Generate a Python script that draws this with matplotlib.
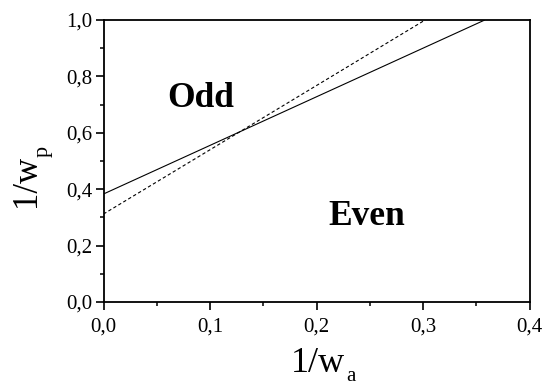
import matplotlib
matplotlib.use("Agg")
import matplotlib.pyplot as plt
from matplotlib.ticker import MultipleLocator, FuncFormatter

# Data
solid_x = [0.0, 0.358]
solid_y = [0.383, 1.0]
dashed_x = [0.0, 0.302]
dashed_y = [0.312, 1.0]
xticks = [0.0, 0.1, 0.2, 0.3, 0.4]
yticks = [0.0, 0.2, 0.4, 0.6, 0.8, 1.0]
region_labels = ["Odd", "Even"]
region_pos = [(0.0596, 0.691), (0.211, 0.273)]

plt.rcParams['font.family'] = ['Liberation Serif', 'DejaVu Serif']

W, H = 544, 386
fig = plt.figure(figsize=(W/100, H/100), dpi=100)
L, R, T, B = 103.5, 529.5, 20, 302
ax = fig.add_axes([L/W, 1-B/H, (R-L)/W, (B-T)/H])

ax.plot(solid_x, solid_y, color='black', lw=0.8, solid_capstyle='butt')
ax.plot(dashed_x, dashed_y, color='black', lw=0.8, dashes=(3, 2.2))

for lab, (px, py) in zip(region_labels, region_pos):
    ax.text(px, py, lab, fontsize=25.5, fontweight='bold', ha='left', va='baseline')

ax.set_xlim(0, 0.4)
ax.set_ylim(0, 1.0)
ax.set_xticks(xticks)
ax.set_yticks(yticks)
ax.xaxis.set_minor_locator(MultipleLocator(0.05))
ax.yaxis.set_minor_locator(MultipleLocator(0.1))
fmt = FuncFormatter(lambda v, p: f"{v:.1f}".replace('.', ','))
ax.xaxis.set_major_formatter(fmt)
ax.yaxis.set_major_formatter(fmt)

for s in ax.spines.values():
    s.set_linewidth(1.3)
ax.tick_params(which='major', direction='out', length=6, width=1.2, labelsize=15,
               top=False, right=False)
ax.tick_params(axis='y', which='major', pad=2)
ax.tick_params(axis='x', which='major', pad=5)
ax.tick_params(which='minor', direction='out', length=3.2, width=1.1, top=False, right=False)

# Axis labels with deep subscripts (as in the reference)
fig.text(291/W, 1-372/H, '1/w', fontsize=26, ha='left', va='baseline')
fig.text(346/W, 1-381/H, 'a', fontsize=15, ha='left', va='baseline')
fig.text(35/W, 1-207/H, '1/w', fontsize=25, rotation=90, rotation_mode='anchor',
         ha='left', va='baseline')
fig.text(48/W, 1-157/H, 'p', fontsize=16, rotation=90, rotation_mode='anchor',
         ha='left', va='baseline')

fig.savefig('out.png', dpi=100)
